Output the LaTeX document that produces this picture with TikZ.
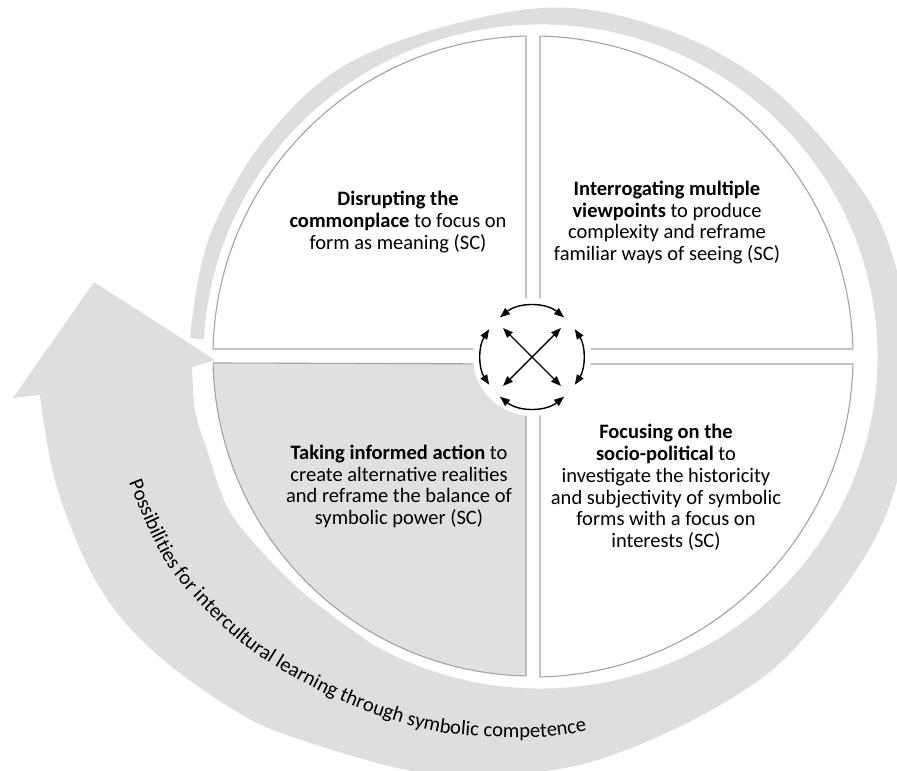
\documentclass[tikz,border=0pt]{standalone}
\usepackage{fontspec}
\setmainfont{Carlito}
\usetikzlibrary{arrows.meta,decorations.text,calc}
\definecolor{ringgray}{HTML}{DEDEDE}
\definecolor{qgray}{HTML}{E0E0E0}
\definecolor{qline}{HTML}{A3A3A3}
\begin{document}
\begin{tikzpicture}[x=1pt,y=-1pt,
  quad/.style={draw=qline, line width=1.1pt},
  qtext/.style={align=center, inner sep=0pt, text=black, font=\fontsize{20.5}{21.8}\selectfont},
  arr/.style={line width=1.4pt, arrows={Triangle[length=10pt,width=7.5pt]-Triangle[length=10pt,width=7.5pt]}}]
\useasboundingbox (0,0) rectangle (897,771);
\fill[white] (0,0) rectangle (897,771);
\begin{scope}
\clip (0,0) rectangle (897,771);
% big circular arrow
\fill[ringgray] plot[smooth, tension=0.6] coordinates {
 (190.0,338.1) (209.7,236.1) (271.6,130.9) (366.0,54.3) (534.4,8.6) (660.2,27.6)
 (768.0,85.3) (852.3,176.5) (890.5,249.5) (912.5,356.5) (903.7,453.8) (870.5,547)
 (794.4,648.6) (724.5,702.6) (624.3,750.7) (540.5,771.5) (428.7,773.8) (301.0,739.8)
 (233.5,709.7) (151.6,649.6) (96.8,582.6) (56.6,486.2) (40,395)}
 -- (13,398) -- (94,282) -- (215,360) -- (192,367)
 -- plot[smooth] coordinates {(192,367) (195,410) (207,450) (233,517) (300,590) (372,644)}
 arc[start angle=120, end angle=-177, x radius=337, y radius=332]
 -- cycle;
\end{scope}
% quadrants
\draw[quad] (526,349) -- (213.08,349) arc[start angle=181.25, end angle=268.75, radius=320] -- cycle;
\draw[quad] (540,349) -- (540,36.08) arc[start angle=-88.75, end angle=-1.25, radius=320] -- cycle;
\draw[quad, fill=qgray] (526,364) -- (526,675.92) arc[start angle=91.25, end angle=178.75, radius=320] -- cycle;
\draw[quad] (540,364) -- (852.92,364) arc[start angle=1.25, end angle=88.75, radius=320] -- cycle;
% centre
\coordinate (cc) at (532,357);
\fill[white] (cc) circle[radius=59];
\draw[arr] ($(cc)+(-129:51)$) arc[start angle=-129, end angle=-51, radius=51];
\draw[arr] ($(cc)+(51:51)$) arc[start angle=51, end angle=129, radius=51];
\draw[arr] ($(cc)+(-33:51)$) arc[start angle=-33, end angle=33, radius=51];
\draw[arr] ($(cc)+(147:51)$) arc[start angle=147, end angle=213, radius=51];
\coordinate (x1) at (503,328);
\coordinate (x2) at (561,386);
\coordinate (x3) at (561,328);
\coordinate (x4) at (503,386);
\draw[arr] (x1) -- (x2);
\draw[arr] (x3) -- (x4);
% texts
\node[qtext] (q1) at (398,222) {\textbf{Disrupting the}\\\textbf{commonplace} to focus on\\form as meaning (SC)};
\node[qtext] (q2) at (667,222.5) {\textbf{Interrogating multiple}\\\textbf{viewpoints} to produce\\complexity and reframe\\familiar ways of seeing (SC)};
\node[qtext] (q3) at (399,486.5) {\textbf{Taking informed action} to\\create alternative realities\\and reframe the balance of\\symbolic power (SC)};
\node[qtext] (q4) at (666,487.5) {\textbf{Focusing on the}\\\textbf{socio-political} to\\investigate the historicity\\and subjectivity of symbolic\\forms with a focus on\\interests (SC)};
% text along the arrow
\path[decorate, decoration={text along path, text align=left,
  text={|\fontsize{20.6}{22}\selectfont|Possibilities for intercultural learning through symbolic competence}}]
  plot[smooth] coordinates {(128.8,482.4) (170.7,570) (248.5,648.5) (341.5,701.2) (439.8,732.2) (540.5,737) (605.8,726.8) (667.7,706.1) (720,680)};
\end{tikzpicture}
\end{document}
